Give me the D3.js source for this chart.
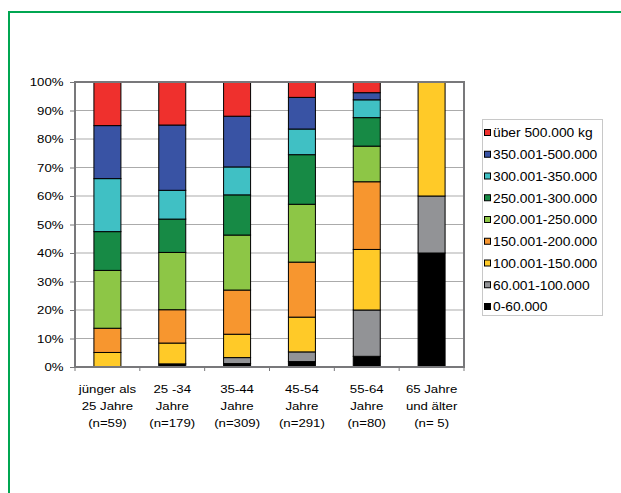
<!DOCTYPE html>
<html>
<head>
<meta charset="utf-8">
<script src="https://cdn.jsdelivr.net/npm/d3@7"></script>
<style>
  html, body { margin: 0; padding: 0; background: #fff; }
  svg { display: block; font-family: "Liberation Sans", Arial, sans-serif; }
</style>
</head>
<body>
<svg id="chart" width="621" height="493"></svg>
<script>
// ---- data ----
const categories = ["jünger als 25 Jahre", "25 -34 Jahre", "35-44 Jahre", "45-54 Jahre", "55-64 Jahre", "65 Jahre und älter"];
const categoryLines = [
  ["jünger als", "25 Jahre", "(n=59)"],
  ["25 -34", "Jahre", "(n=179)"],
  ["35-44", "Jahre", "(n=309)"],
  ["45-54", "Jahre", "(n=291)"],
  ["55-64", "Jahre", "(n=80)"],
  ["65 Jahre", "und älter", "(n= 5)"]
];
// series, bottom to top (percent per age group)
const seriesNames = ["0-60.000", "60.001-100.000", "100.001-150.000", "150.001-200.000", "200.001-250.000",
                     "250.001-300.000", "300.001-350.000", "350.001-500.000", "über 500.000 kg"];
const s0_60     = [0,    1.1,  1.2,  1.9,  3.75, 40];
const s60_100   = [0,    0,    2.1,  3.4,  16.25, 20];
const s100_150  = [5.1,  7.3,  8.2,  12.2, 21.25, 40];
const s150_200  = [8.5,  11.7, 15.5, 19.3, 23.75, 0];
const s200_250  = [20.3, 20.1, 19.3, 20.3, 12.5, 0];
const s250_300  = [13.6, 11.7, 14.1, 17.4, 10,   0];
const s300_350  = [18.6, 10.1, 9.8,  9.0,  6.25, 0];
const s350_500  = [18.6, 22.9, 17.8, 11.1, 2.5,  0];
const sOver500  = [15.3, 15.1, 12.0, 5.4,  3.75, 0];
const seriesValues = [s0_60, s60_100, s100_150, s150_200, s200_250, s250_300, s300_350, s350_500, sOver500];
const seriesColors = ["#000000", "#929396", "#FFCA28", "#F7962F", "#8DC646", "#178A45", "#40C0C4", "#3953A4", "#EF302D"];
const yTicks = [0, 10, 20, 30, 40, 50, 60, 70, 80, 90, 100];

// ---- layout ----
const svg = d3.select("#chart");
const plot = { left: 75, right: 464, top: 82, bottom: 367 };
const SX = 1.15; // horizontal text stretch seen in the reference

// green frame (top and left only visible)
svg.append("line").attr("x1", 8).attr("x2", 621).attr("y1", 12).attr("y2", 12)
  .attr("stroke", "#00A651").attr("stroke-width", 2);
svg.append("line").attr("x1", 9).attr("x2", 9).attr("y1", 11).attr("y2", 493)
  .attr("stroke", "#00A651").attr("stroke-width", 2);

const x = d3.scaleBand().domain(categories).range([plot.left, plot.right]).padding(0);
const y = d3.scaleLinear().domain([0, 100]).range([plot.bottom, plot.top]);

// gridlines
svg.append("g").selectAll("line").data(yTicks.filter(d => d > 0 && d < 100)).join("line")
  .attr("x1", plot.left).attr("x2", plot.right)
  .attr("y1", d => y(d)).attr("y2", d => y(d))
  .attr("stroke", "#ABABAB").attr("stroke-width", 1);

// stacked bars
const table = categories.map((c, i) => {
  const row = { cat: c };
  seriesNames.forEach((s, j) => row[s] = seriesValues[j][i]);
  return row;
});
const stack = d3.stack().keys(seriesNames)(table);
const barW = 27;
svg.append("g").selectAll("g").data(stack).join("g")
  .attr("fill", (d, i) => seriesColors[i])
  .selectAll("rect").data(d => d.filter(p => p[1] - p[0] > 0)).join("rect")
  .attr("x", d => x(d.data.cat) + x.bandwidth() / 2 - barW / 2)
  .attr("width", barW)
  .attr("y", d => y(d[1]))
  .attr("height", d => y(d[0]) - y(d[1]))
  .attr("stroke", "#000").attr("stroke-width", 1);

// plot frame
svg.append("rect").attr("x", plot.left).attr("y", plot.top)
  .attr("width", plot.right - plot.left).attr("height", plot.bottom - plot.top)
  .attr("fill", "none").attr("stroke", "#78787B").attr("stroke-width", 2);

// y axis
const yAxis = svg.append("g").attr("transform", `translate(${plot.left},0)`)
  .call(d3.axisLeft(y).tickValues(yTicks).tickFormat(d => d + "%").tickSize(5).tickPadding(5));
yAxis.select(".domain").remove();
yAxis.selectAll(".tick line").attr("stroke", "#78787B").attr("stroke-width", 1);
yAxis.selectAll(".tick text").attr("transform", `scale(${SX},1)`)
  .attr("font-size", 11.5).attr("fill", "#000")
  .attr("font-family", "'Liberation Sans', Arial, sans-serif");

// x tick marks at category boundaries
const bounds = categories.map(c => x(c)).concat([plot.right]);
svg.append("g").selectAll("line").data(bounds).join("line")
  .attr("x1", d => d).attr("x2", d => d)
  .attr("y1", plot.bottom).attr("y2", plot.bottom + 4)
  .attr("stroke", "#78787B").attr("stroke-width", 1);

// x labels
const xl = svg.append("g").selectAll("g").data(categories).join("g");
xl.each(function (c, i) {
  const g = d3.select(this);
  const cx = x(c) + x.bandwidth() / 2;
  categoryLines[i].forEach((t, k) => {
    g.append("text")
      .attr("transform", `translate(${cx},${393 + k * 17}) scale(${SX},1)`)
      .attr("text-anchor", "middle").attr("font-size", 11.5).attr("fill", "#000")
      .text(t);
  });
});

// legend
const lg = svg.append("g");
lg.append("rect").attr("x", 482.5).attr("y", 119.5).attr("width", 120).attr("height", 196)
  .attr("fill", "#fff").attr("stroke", "#C8C8C8").attr("stroke-width", 1);
const legendOrder = seriesNames.map((s, i) => i).reverse();
legendOrder.forEach((si, k) => {
  const cy = 133 + k * 21.75;
  lg.append("rect").attr("x", 484.5).attr("y", cy - 3.5).attr("width", 6).attr("height", 6)
    .attr("fill", seriesColors[si]).attr("stroke", "#000").attr("stroke-width", 1);
  lg.append("text").attr("transform", `translate(493,${cy + 4.3}) scale(${SX},1)`)
    .attr("font-size", 12).attr("fill", "#000").text(seriesNames[si]);
});
</script>
</body>
</html>
